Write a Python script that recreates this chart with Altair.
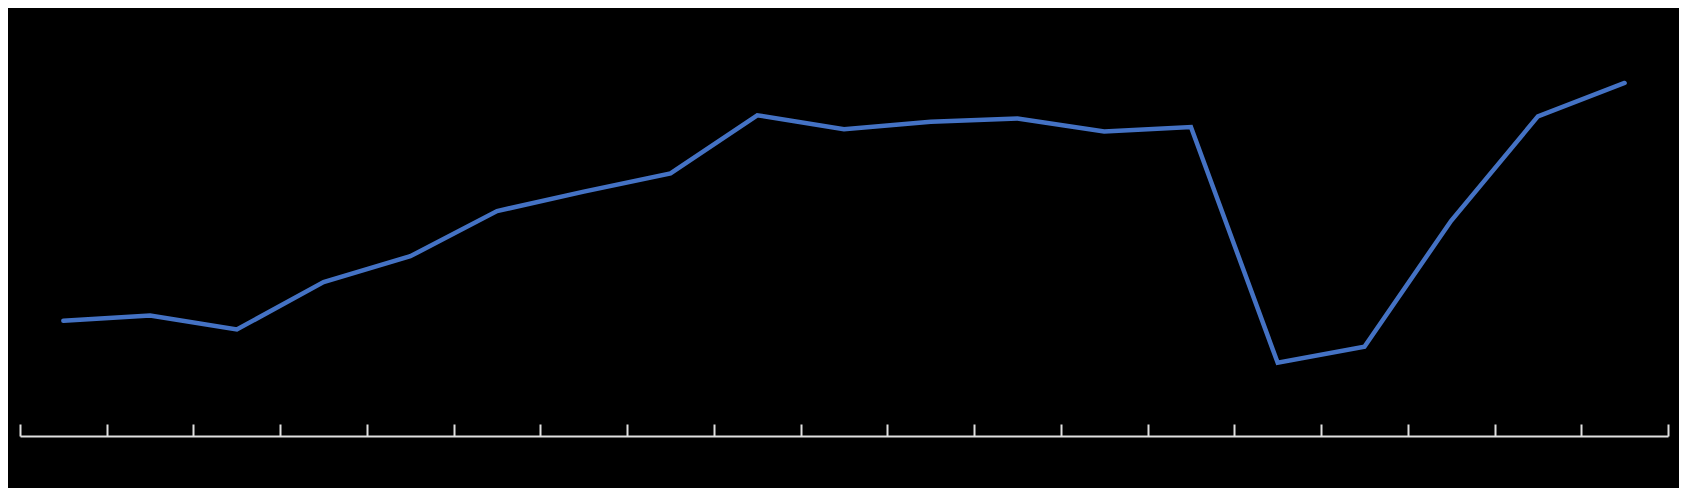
import altair as alt
import pandas as pd

categories = [f"P{i:02d}" for i in range(1, 20)]
values = [107, 112, 99, 143, 167, 209, 227, 244, 298, 285, 292, 295, 283, 287, 68, 83, 200, 297, 328]

df = pd.DataFrame({"cat": categories, "val": values})

W = 1648
H = 409

chart = alt.Chart(df).mark_line(color="#4472C4", strokeWidth=4.5, strokeCap="round", strokeJoin="miter").encode(
    x=alt.X("cat:N", sort=categories, bandPosition=0.5,
            scale=alt.Scale(type="band", paddingInner=0, paddingOuter=0),
            axis=alt.Axis(orient="top", offset=-H, tickBand="extent", labels=False, title=None,
                          domainColor="#e0e0e0", tickColor="#e0e0e0", domainWidth=2, tickWidth=2,
                          tickSize=12, grid=False)),
    y=alt.Y("val:Q", scale=alt.Scale(domain=[0, 380], nice=False, zero=True), axis=None),
).properties(
    width=W, height=H, background="#000000",
    autosize=alt.AutoSizeParams(type="none"),
    padding={"left": 12, "top": 19, "right": 11, "bottom": 52},
).configure_view(stroke=None)

chart.save("out.html", embed_options={"renderer": "svg", "actions": False})
